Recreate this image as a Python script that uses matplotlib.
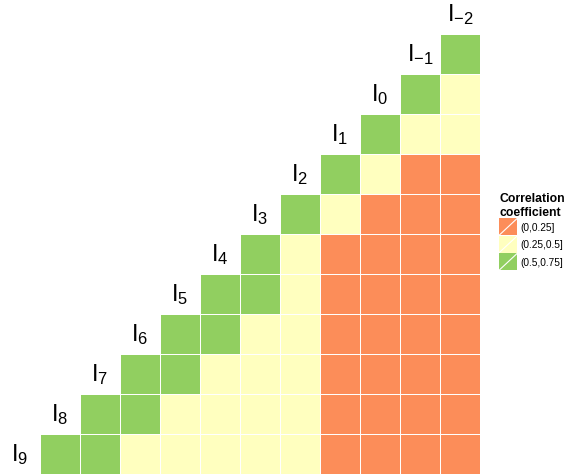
import matplotlib
matplotlib.use("Agg")
import matplotlib.pyplot as plt
import numpy as np
from matplotlib.colors import ListedColormap, BoundaryNorm
from matplotlib.patches import Rectangle
from matplotlib.lines import Line2D

plt.rcParams['font.family'] = ['Liberation Sans', 'DejaVu Sans']
plt.rcParams['mathtext.fontset'] = 'custom'
plt.rcParams['mathtext.rm'] = 'Liberation Sans'
plt.rcParams['mathtext.it'] = 'Liberation Sans:italic'

# Variables, du bas (I_9) vers le haut (I_-2)
variables = ["9", "8", "7", "6", "5", "4", "3", "2", "1", "0", "-1", "-2"]

# Classes de corrélation par ligne (ligne du haut -> bas), G=(0.5,0.75], Y=(0.25,0.5], O=(0,0.25]
lignes = [
    "G",
    "GY",
    "GYY",
    "GYOO",
    "GYOOO",
    "GYOOOO",
    "GGYOOOO",
    "GGYYOOOO",
    "GGYYYOOOO",
    "GGYYYYOOOO",
    "GGYYYYYOOOO",
]

classes = ["(0,0.25]", "(0.25,0.5]", "(0.5,0.75]"]
couleurs = ["#FC8D59", "#FFFFBF", "#91CF60"]
codes = {"O": 0, "Y": 1, "G": 2}

n = len(lignes)
grille = np.full((n, n), np.nan)
for r, ligne in enumerate(lignes):
    debut = n - len(ligne)
    for j, c in enumerate(ligne):
        grille[r, debut + j] = codes[c]

fig = plt.figure(figsize=(5.68, 4.77), dpi=100)
ax = fig.add_axes([40 / 568, 2 / 477, 440 / 568, 440 / 477])
cmap = ListedColormap(couleurs)
norm = BoundaryNorm([-0.5, 0.5, 1.5, 2.5], 3)
ax.pcolormesh(np.arange(n + 1), np.arange(n + 1), np.ma.masked_invalid(grille),
              cmap=cmap, norm=norm, edgecolors="white", linewidth=0.6)
ax.set_xlim(0, n)
ax.set_ylim(n, 0)
ax.axis("off")

# étiquettes sur la diagonale
for k, v in enumerate(variables):
    ax.text(k - 0.5, n - 1 - k + 0.5, r"$\mathrm{I}_{%s}$" % v, fontsize=17,
            ha="center", va="center", clip_on=False)


class KeyDiagonale:
    def legend_artist(self, legend, orig_handle, fontsize, handlebox):
        x0, y0 = -handlebox.xdescent, -handlebox.ydescent
        w, h = handlebox.width, handlebox.height
        rect = Rectangle((x0, y0), w, h, facecolor=orig_handle.get_facecolor(),
                         edgecolor="none", transform=handlebox.get_transform())
        trait = Line2D([x0, x0 + w], [y0, y0 + h], color="white", lw=0.8,
                       transform=handlebox.get_transform())
        handlebox.add_artist(rect)
        handlebox.add_artist(trait)
        return rect


poignees = [Rectangle((0, 0), 1, 1, facecolor=c) for c in couleurs]
leg = fig.legend(poignees, classes, handler_map={Rectangle: KeyDiagonale()},
                 loc="upper left", bbox_to_anchor=(497 / 568, 1 - 191 / 477),
                 frameon=False, fontsize=7.3, title="Correlation\ncoefficient",
                 title_fontproperties={"weight": "bold", "size": 8.8},
                 handlelength=1.8, handleheight=2.2, labelspacing=0.05,
                 handletextpad=0.3, borderaxespad=0, borderpad=0.2)
leg._legend_box.align = "left"

fig.savefig("out.png", dpi=100)
